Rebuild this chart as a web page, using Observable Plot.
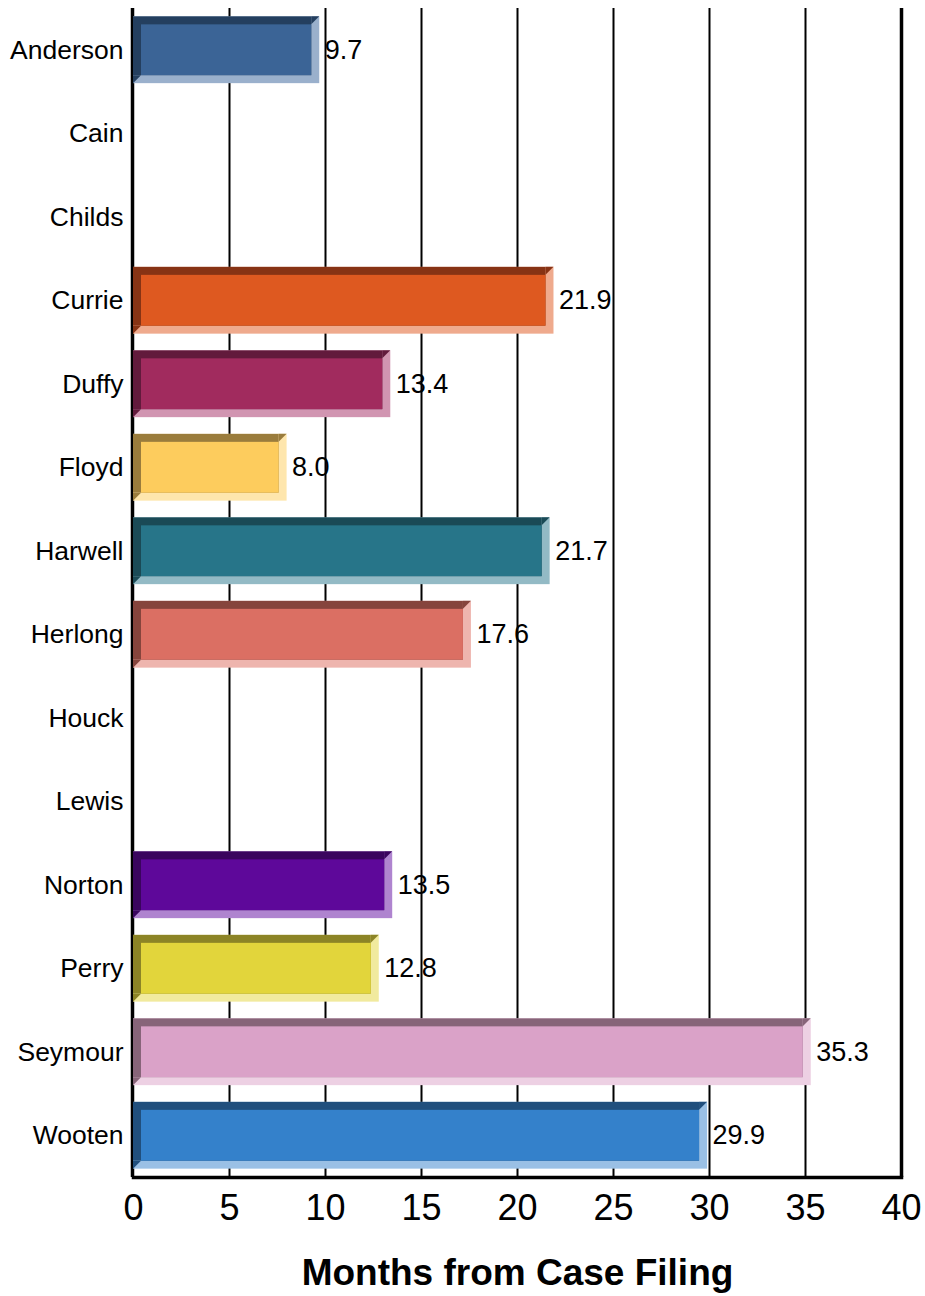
<!DOCTYPE html>
<html>
<head>
<meta charset="utf-8">
<script src="https://cdn.jsdelivr.net/npm/d3@7"></script>
<script src="https://cdn.jsdelivr.net/npm/@observablehq/plot@0.6"></script>
<style>
  html, body { margin: 0; padding: 0; background: #ffffff; }
  #chart svg { display: block; }
</style>
</head>
<body>
<div id="chart"></div>
<script>
const names = ["Anderson", "Cain", "Childs", "Currie", "Duffy", "Floyd", "Harwell", "Herlong", "Houck", "Lewis", "Norton", "Perry", "Seymour", "Wooten"];
const values = [9.7, null, null, 21.9, 13.4, 8.0, 21.7, 17.6, null, null, 13.5, 12.8, 35.3, 29.9];
const faceColors  = ["#3B6496", null, null, "#DE5920", "#A12B5E", "#FDCC5D", "#277589", "#DB6F63", null, null, "#5E089A", "#E2D53B", "#DAA2C8", "#3481CB"];
const darkColors  = ["#243F5F", null, null, "#873314", "#621A3C", "#9A7C3C", "#1A4A56", "#86443C", null, null, "#3A055E", "#8C8426", "#876479", "#204F7D"];
const lightColors = ["#9AB0CC", null, null, "#EFAA8D", "#D195B1", "#FEE6AD", "#93BAC5", "#EEB5AE", null, null, "#AF84CF", "#F1EA9E", "#EDD0E3", "#9AC0E5"];
const xTicks = [0, 5, 10, 15, 20, 25, 30, 35, 40];
const xLabel = "Months from Case Filing";

const bars = names.map((name, i) => ({
  name, value: values[i], face: faceColors[i], dark: darkColors[i], light: lightColors[i]
})).filter(d => d.value != null);

const bevel = 8;
const font = "'Liberation Sans', Arial, Helvetica, sans-serif";

// mitered corner triangles (drawn via the plot's own scales)
function miters(index, scales) {
  try {
    const x = scales.x, y = scales.y;
    const bw = typeof y.bandwidth === "function" ? y.bandwidth() : y.bandwidth;
    const g = document.createElementNS("http://www.w3.org/2000/svg", "g");
    for (const d of bars) {
      const x1 = x(0), x2 = x(d.value);
      const y1 = y(d.name), y2 = y1 + bw;
      const tr = document.createElementNS("http://www.w3.org/2000/svg", "path");
      tr.setAttribute("d", `M${x2 - bevel},${y1}L${x2},${y1}L${x2 - bevel},${y1 + bevel}Z`);
      tr.setAttribute("fill", d.dark);
      g.appendChild(tr);
      const bl = document.createElementNS("http://www.w3.org/2000/svg", "path");
      bl.setAttribute("d", `M${x1},${y2 - bevel}L${x1 + bevel},${y2 - bevel}L${x1},${y2}Z`);
      bl.setAttribute("fill", d.dark);
      g.appendChild(bl);
    }
    return g;
  } catch (e) { return null; }
}

const chart = Plot.plot({
  width: 925,
  height: 1296,
  marginTop: 8,
  marginBottom: 119,
  marginLeft: 133,
  marginRight: 24,
  style: { fontFamily: font, color: "#000", background: "#fff", overflow: "visible" },
  x: { domain: [0, 40], label: null },
  y: { domain: names, paddingInner: 0.2, paddingOuter: 0.1, round: false, label: null },
  marks: [
    Plot.ruleX(xTicks.filter(t => t > 0 && t < 40), { stroke: "#000", strokeWidth: 2 }),
    Plot.ruleX([40], { stroke: "#000", strokeWidth: 3.5 }),
    Plot.ruleX([0], { stroke: "#000", strokeWidth: 3.5, dx: -1 }),
    Plot.frame({ anchor: "bottom", stroke: "#000", strokeWidth: 3.5 }),
    Plot.rect(bars, { x1: 0, x2: "value", y: "name", fill: "light" }),
    Plot.rect(bars, { x1: 0, x2: "value", y: "name", fill: "dark", insetRight: bevel, insetBottom: bevel }),
    miters,
    Plot.rect(bars, { x1: 0, x2: "value", y: "name", fill: "face", inset: bevel }),
    Plot.text(bars, { x: "value", y: "name", text: d => d.value.toFixed(1), textAnchor: "start", dx: 5, fontSize: 27, fill: "#000" }),
    Plot.axisX({ ticks: xTicks, tickSize: 0, tickPadding: 17, fontSize: 36, label: null, tickFormat: d => String(d) }),
    Plot.axisY({ tickSize: 0, tickPadding: 10, fontSize: 26.5, label: null }),
    Plot.text([xLabel], { text: d => d, frameAnchor: "bottom", lineAnchor: "middle", dy: 96, fontSize: 37, fontWeight: "bold", fill: "#000" })
  ]
});
document.getElementById("chart").appendChild(chart);
</script>
</body>
</html>
